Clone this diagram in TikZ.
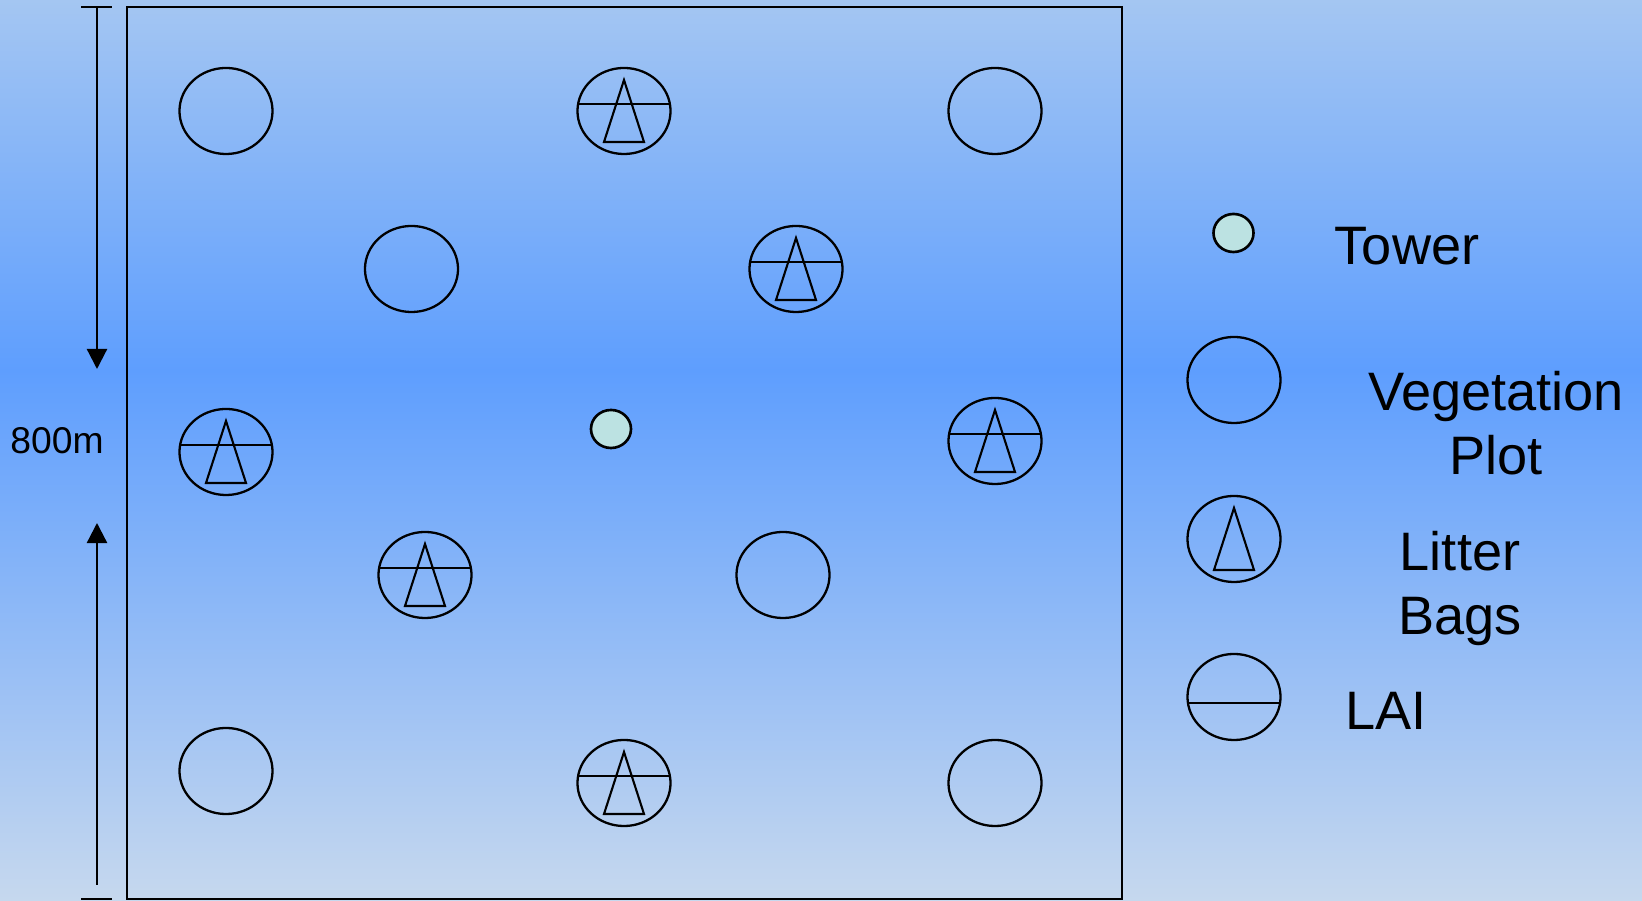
\documentclass[tikz,border=0pt]{standalone}
\usepackage{fontspec}
\setmainfont{Liberation Sans}
\usetikzlibrary{shapes.geometric,arrows.meta,calc}
\definecolor{skytop}{HTML}{A4C6F2}
\definecolor{skymid}{HTML}{5E9EFE}
\definecolor{skybot}{HTML}{C6D8EE}
\definecolor{towerfill}{HTML}{BCE2E2}

\begin{document}
\begin{tikzpicture}[
  x=0.01cm, y=-0.01cm,
  plot/.style={draw, ellipse, line width=0.65pt, minimum width=0.93cm,
               minimum height=0.86cm, inner sep=0pt},
  tower/.style={draw, ellipse, line width=0.75pt, fill=towerfill,
                minimum width=0.40cm, minimum height=0.38cm, inner sep=0pt},
  sym/.style={line width=0.6pt},
  ar/.style={-{Triangle[length=0.2cm,width=0.2cm]}, line width=0.65pt},
  lbl/.style={font=\fontsize{15.4}{18.2}\selectfont, align=center, anchor=base},
]
% background
\shade[top color=skytop, bottom color=skymid] (0,0) rectangle (1642,371);
\shade[top color=skymid, bottom color=skybot] (0,370) rectangle (1642,901);
\useasboundingbox (0,0) rectangle (1642,901);

% field
\node[draw, line width=0.65pt, minimum width=9.95cm, minimum height=8.92cm,
      inner sep=0pt] (field) at (624.5,453) {};

% plots
\foreach \n/\x/\y in {p1/226/111, p2/624/111, p3/995/111,
                      p4/411.5/269, p5/796/269,
                      p6/226/452, p7/995/441,
                      p8/425/575, p9/783/575,
                      p10/226/771, p11/624/783, p12/995/783} {
  \node[plot] (\n) at (\x,\y) {};
}
\node[tower] (tw) at (611,429) {};

% LAI and litter bags
\foreach \n in {p2, p5, p6, p7, p8, p11} {
  \draw[sym] (\n.center) ++(-46.5,-7) -- ++(93,0);
  \draw[sym] (\n.center) ++(0,-31) -- ++(20,62) -- ++(-40,0) -- cycle;
}

% 800m
\coordinate (dtop) at (97,7);
\coordinate (dbot) at (97,885);
\coordinate (dtipa) at (97,369);
\coordinate (dtipb) at (97,523);
\draw[line width=0.65pt] (81,7) -- (112,7);
\draw[line width=0.65pt] (81,899) -- (112,899);
\draw[ar] (dtop) -- (dtipa);
\draw[ar] (dbot) -- (dtipb);
\node[font=\fontsize{10.6}{12.5}\selectfont, anchor=base] (len) at (57,454) {800m};

% legend
\node[tower] (ltw) at (1233.5,233) {};
\node[plot] (lveg) at (1234,380) {};
\node[plot] (llit) at (1234,539) {};
\node[plot] (llai) at (1234,697) {};
\draw[sym] (llit.center) ++(0,-31) -- ++(20,62) -- ++(-40,0) -- cycle;
\draw[sym] (llai.center) ++(-46.5,6) -- ++(93,0);
\node[lbl] (ttw) at (1407,265) {Tower};
\node[lbl] (tveg) at (1496,475) {Vegetation\\Plot};
\node[lbl] (tlit) at (1460,635) {Litter\\Bags};
\node[lbl] (tlai) at (1386,730) {LAI};
\end{tikzpicture}
\end{document}
